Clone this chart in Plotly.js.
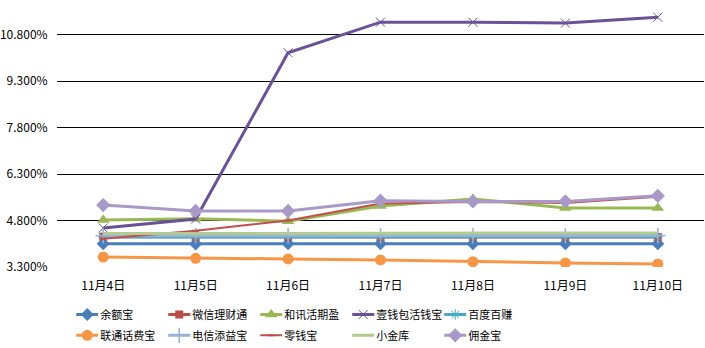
<!DOCTYPE html>
<html><head><meta charset="utf-8">
<script src="https://cdn.plot.ly/plotly-3.0.1.min.js"></script>
<style>html,body{margin:0;padding:0;background:#fff}</style>
</head><body>
<div id="chart" style="width:705px;height:348px"></div>
<script>
var dates = ["11月4日","11月5日","11月6日","11月7日","11月8日","11月9日","11月10日"];
var names = ["余额宝","微信理财通","和讯活期盈","壹钱包活钱宝","百度百赚","联通话费宝","电信添益宝","零钱宝","小金库","佣金宝"];
var yuebao   = [4.05, 4.04, 4.05, 4.05, 4.05, 4.05, 4.05];
var weixin   = [4.28, 4.27, 4.27, 4.27, 4.27, 4.27, 4.27];
var hexun    = [4.82, 4.86, 4.78, 5.27, 5.50, 5.21, 5.21];
var yiqianbao= [4.56, 4.85, 10.22, 11.21, 11.21, 11.18, 11.37];
var baidu    = [4.27, 4.27, 4.27, 4.27, 4.27, 4.27, 4.28];
var liantong = [3.62, 3.58, 3.56, 3.53, 3.47, 3.43, 3.40];
var dianxin  = [4.31, 4.31, 4.31, 4.31, 4.31, 4.31, 4.32];
var lingqian = [4.21, 4.47, 4.80, 5.35, 5.40, 5.37, 5.57];
var xiaojinku= [4.38, 4.38, 4.38, 4.38, 4.38, 4.38, 4.40];
var yongjin  = [5.30, 5.11, 5.11, 5.44, 5.42, 5.42, 5.60];
var yTicks = [3.3, 4.8, 6.3, 7.8, 9.3, 10.8];
var yTickText = ["3.300%","4.800%","6.300%","7.800%","9.300%","10.800%"];

var series = [yuebao, weixin, hexun, yiqianbao, baidu, liantong, dianxin, lingqian, xiaojinku, yongjin];
var styles = [
  {c:"#4a7ebb", w:3, m:{symbol:"diamond", size:10}},
  {c:"#be4b48", w:3, m:{symbol:"square", size:8}},
  {c:"#98b954", w:3, m:{symbol:"triangle-up", size:11}},
  {c:"#6b5196", w:3, m:{symbol:"x-thin-open", size:9, line:{width:1, color:"#7f68a8"}}},
  {c:"#46aac5", w:3, m:{symbol:"asterisk-open", size:9, line:{width:1, color:"#46aac5"}}},
  {c:"#f79646", w:3, m:{symbol:"circle", size:11}},
  {c:"#95b3d7", w:3, m:{symbol:"cross-thin-open", size:11, line:{width:1.5, color:"#95b3d7"}}},
  {c:"#c0504d", w:2, m:{symbol:"line-ew-open", size:5, line:{width:2, color:"#000000"}}},
  {c:"#b3cb8e", w:3, m:{symbol:"circle", size:1, opacity:0}},
  {c:"#a899c8", w:3, m:{symbol:"diamond", size:11}}
];
var traces = series.map(function(s, i){
  var st = styles[i];
  var mk = Object.assign({color: st.c}, st.m);
  return {
    x: dates, y: s, name: names[i], type: "scatter", mode: "lines+markers",
    line: {color: st.c, width: st.w}, marker: mk,
    legend: i < 5 ? "legend" : "legend2"
  };
});
var legFont = {family: "Noto Sans CJK SC", size: 11, color: "#000"};
var layout = {
  width: 705, height: 348,
  margin: {l: 57, r: 1, t: 7, b: 81, autoexpand: false},
  paper_bgcolor: "#fff", plot_bgcolor: "#fff",
  font: {family: "Noto Sans CJK SC", size: 12, color: "#000"},
  showlegend: true,
  xaxis: {type: "category", range: [-0.5, 6.5], showgrid: false, zeroline: false,
          showline: false, ticks: "outside", ticklen: 8, tickcolor: "rgba(0,0,0,0)",
          tickfont: {family: "Noto Sans CJK SC", size: 12, color: "#000"}},
  yaxis: {range: [3.3, 11.7], tickvals: yTicks, ticktext: yTickText, showgrid: true,
          gridcolor: "#000", gridwidth: 1, zeroline: false, showline: false,
          ticks: "outside", ticklen: 6, tickcolor: "rgba(0,0,0,0)",
          tickfont: {family: "Noto Sans CJK SC", size: 12, color: "#000"}},
  legend: {orientation: "h", x: 0.005, xanchor: "left", yref: "container", y: 0.138, yanchor: "top",
           entrywidth: 47, itemwidth: 30, font: legFont, bgcolor: "rgba(0,0,0,0)",
           tracegroupgap: 0},
  legend2: {orientation: "h", x: 0.005, xanchor: "left", yref: "container", y: 0.078, yanchor: "top",
           entrywidth: 47, itemwidth: 30, font: legFont, bgcolor: "rgba(0,0,0,0)",
           tracegroupgap: 0}
};
Plotly.newPlot("chart", traces, layout, {displayModeBar: false, staticPlot: true}).then(function(gd){
  // shorten legend sample lines to match the compact Excel-style keys
  gd.querySelectorAll(".legendlines path").forEach(function(p){ p.setAttribute("d", "M16,0h22"); });
  gd.querySelectorAll(".legendpoints path").forEach(function(p){ p.setAttribute("transform", "translate(27,0)"); });
});
</script>
</body></html>
